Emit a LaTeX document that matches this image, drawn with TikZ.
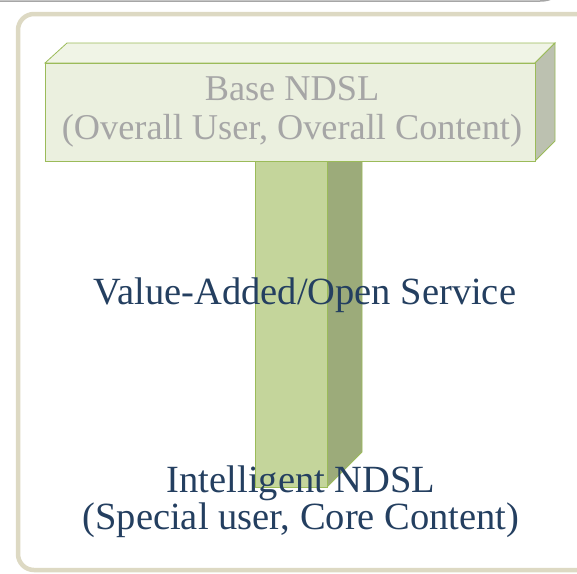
\documentclass[tikz,border=0pt]{standalone}
\usepackage{fontspec}
\setmainfont{Liberation Serif}

\definecolor{frametan}{RGB}{221,217,195}
\definecolor{boxfront}{RGB}{235,240,223}
\definecolor{boxtop}{RGB}{240,244,230}
\definecolor{boxside}{RGB}{188,193,176}
\definecolor{leafline}{RGB}{155,187,89}
\definecolor{pillarfront}{RGB}{196,213,155}
\definecolor{pillarside}{RGB}{156,171,122}
\definecolor{basegray}{RGB}{166,166,166}
\definecolor{inkblue}{RGB}{36,63,96}

\tikzset{every picture/.style={line width=0.75pt}}
\tikzset{
  face/.style={draw=leafline, line width=0.8},
  label/.style={inner sep=0.75pt, align=center, font=\fontsize{38.5}{37}\selectfont}
}

\begin{document}
\begin{tikzpicture}[x=1pt,y=1pt,yscale=-1]
\useasboundingbox (0,0) rectangle (577,573);

% frame
\draw  [gray!70, line width=1.5]  (0,1) -- (540,1) .. controls (552,1) and (558,-4) .. (560,-10) ;
\draw  [frametan, line width=4.5, fill=white, rounded corners=16]  (18,14) -- (600,14) -- (600,570) -- (18,570) -- cycle ;

% pillar
\draw  [face, fill=pillarside]  (327,150) -- (362,150) -- (362,452) -- (327,487) -- cycle ;
\draw  [face, fill=pillarfront]  (255,150) -- (327,150) -- (327,487) -- (255,487) -- cycle ;

% base block
\draw  [face, fill=boxtop]  (45,63) -- (67,43) -- (555,43) -- (535,63) -- cycle ;
\draw  [face, fill=boxside]  (535,63) -- (555,43) -- (555,141) -- (535,161) -- cycle ;
\draw  [face, fill=boxfront]  (45,63) -- (535,63) -- (535,161) -- (45,161) -- cycle ;

\node (base) at (292,112) [label, text=basegray, font=\fontsize{36.3}{39}\selectfont] {Base NDSL\\(Overall User, Overall Content)};
\node (service) at (305,304) [label, anchor=base, text=inkblue] {Value-Added/Open Service};
\node (intel) at (301,502) [label, text=inkblue] {Intelligent NDSL\\(Special user, Core Content)};

\end{tikzpicture}
\end{document}
